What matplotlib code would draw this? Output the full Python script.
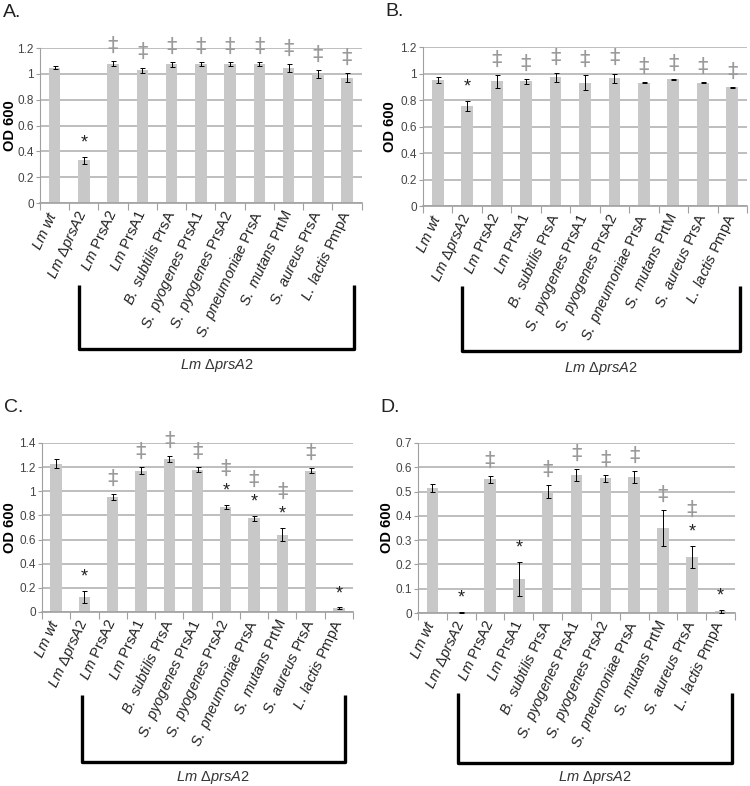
import numpy as np
import matplotlib.pyplot as plt
from matplotlib import transforms

plt.rcParams['font.family'] = ['Liberation Sans', 'DejaVu Sans']
plt.rcParams['mathtext.fontset'] = 'custom'
plt.rcParams['mathtext.rm'] = 'Liberation Sans'
plt.rcParams['mathtext.it'] = 'Liberation Sans:italic'

# strain names: italic part + roman part
name_it = ['Lm wt', 'Lm ΔprsA2', 'Lm', 'Lm', 'B. subtilis', 'S. pyogenes',
           'S. pyogenes', 'S. pneumoniae', 'S. mutans', 'S. aureus', 'L. lactis']
name_rm = ['', '', 'PrsA2', 'PrsA1', 'PrsA', 'PrsA1', 'PrsA2', 'PrsA',
           'PrtM', 'PrsA', 'PmpA']

# panel A
od_A = [1.05, 0.33, 1.08, 1.03, 1.075, 1.08, 1.08, 1.08, 1.045, 1.0, 0.97]
err_A = [0.015, 0.03, 0.02, 0.02, 0.02, 0.015, 0.015, 0.015, 0.03, 0.03, 0.035]
star_A = [0, 1, 0, 0, 0, 0, 0, 0, 0, 0, 0]
dag_A = [0, 0, 1, 1, 1, 1, 1, 1, 1, 1, 1]

# panel B
od_B = [0.95, 0.755, 0.94, 0.94, 0.97, 0.93, 0.965, 0.93, 0.955, 0.93, 0.895]
err_B = [0.025, 0.035, 0.05, 0.02, 0.035, 0.055, 0.035, 0.004, 0.005, 0.005, 0.003]
star_B = [0, 1, 0, 0, 0, 0, 0, 0, 0, 0, 0]
dag_B = [0, 0, 1, 1, 1, 1, 1, 1, 1, 1, 1]

# panel C
od_C = [1.23, 0.125, 0.95, 1.17, 1.27, 1.18, 0.87, 0.775, 0.64, 1.17, 0.03]
err_C = [0.04, 0.05, 0.025, 0.03, 0.025, 0.02, 0.02, 0.02, 0.055, 0.02, 0.008]
star_C = [0, 1, 0, 0, 0, 0, 1, 1, 1, 0, 1]
dag_C = [0, 0, 1, 1, 1, 1, 1, 1, 1, 1, 0]

# panel D
od_D = [0.515, 0.003, 0.55, 0.14, 0.50, 0.567, 0.554, 0.56, 0.35, 0.232, 0.007]
err_D = [0.015, 0.003, 0.015, 0.07, 0.025, 0.025, 0.015, 0.025, 0.075, 0.045, 0.005]
star_D = [0, 1, 0, 1, 0, 0, 0, 0, 0, 1, 1]
dag_D = [0, 0, 1, 0, 1, 1, 1, 1, 1, 1, 0]

ylims = {'A': (1.2, 0.2), 'B': (1.2, 0.2), 'C': (1.4, 0.2), 'D': (0.7, 0.1)}


def label(it, rm):
    s = r'$\mathit{' + it.replace(' ', r'\ ') + '}$'
    if rm:
        s += ' ' + rm
    return s


labels = [label(a, b) for a, b in zip(name_it, name_rm)]

fig = plt.figure(figsize=(7.5, 7.86), dpi=100)

panels = [
    ('A', [0.0533, 0.7417, 0.429, 0.197], od_A, err_A, star_A, dag_A, (0.83, 10.25), (-0.53, -0.94, -1.05), -0.072),
    ('B', [0.564, 0.7379, 0.432, 0.2023], od_B, err_B, star_B, dag_B, (0.82, 10.26), (-0.50, -0.91, -1.02), -0.08),
    ('C', [0.056, 0.2214, 0.4147, 0.215], od_C, err_C, star_C, dag_C, (0.91, 10.2), (-0.49, -0.89, -0.98), -0.08),
    ('D', [0.5573, 0.2201, 0.4227, 0.2163], od_D, err_D, star_D, dag_D, (0.89, 10.4), (-0.47, -0.88, -0.97), -0.075),
]

x = np.arange(len(labels))
for name, pos, od, err, star, dag, bx, by, ylx in panels:
    ax = fig.add_axes(pos)
    top, step = ylims[name]
    ax.set_ylim(0, top)
    ax.set_xlim(-0.5, len(labels) - 0.5)
    yt = np.round(np.arange(0, top + 1e-9, step), 2)
    ax.set_yticks(yt)
    ax.set_yticklabels(['%g' % v for v in yt], fontsize=8.5, color='#444444')
    ax.yaxis.grid(True, color='#b9b9b9', linewidth=1.3)
    ax.set_axisbelow(True)
    ax.bar(x, od, width=0.4, color='#c8c8c8', zorder=2)
    ax.errorbar(x, od, yerr=err, fmt='none', ecolor='black', elinewidth=0.7,
                capsize=1.8, capthick=0.7, zorder=3)
    for i in range(len(od)):
        ytop = od[i] + err[i]
        off = 10
        if star[i]:
            ax.annotate('*', (x[i], ytop), xytext=(0, off), textcoords='offset points',
                        ha='center', va='center', fontsize=13, color='#222222')
            off += 15
        if dag[i]:
            ax.annotate('‡', (x[i], ytop), xytext=(0, off + 1), textcoords='offset points',
                        ha='center', va='center', fontsize=15, color='#9a9a9a',
                        family='DejaVu Sans')
    # x ticks at category borders, labels at centres
    ax.set_xticks(np.arange(-0.5, len(labels), 1.0))
    ax.set_xticklabels([])
    ax.set_xticks(x, minor=True)
    ax.set_xticklabels(labels, minor=True, rotation=65, ha='right', va='center',
                       rotation_mode='anchor', fontsize=10.5, color='#222222')
    ax.tick_params(axis='x', which='major', length=5, color='#a0a0a0', width=0.8)
    ax.tick_params(axis='x', which='minor', length=0, pad=6)
    ax.tick_params(axis='y', length=3, color='#a0a0a0', pad=1.5)
    for s in ['top', 'right']:
        ax.spines[s].set_visible(False)
    ax.spines['left'].set_color('#a0a0a0')
    ax.spines['bottom'].set_color('#a0a0a0')
    ax.spines['bottom'].set_linewidth(1.2)
    ax.set_ylabel('OD 600', fontsize=10.5, fontweight='bold')
    ax.yaxis.set_label_coords(ylx, 0.5)

    # bracket under the complemented strains
    tr = transforms.blended_transform_factory(ax.transData, ax.transAxes)
    ax.plot([bx[0], bx[0], bx[1], bx[1]], [by[0], by[1], by[1], by[0]], color='black',
            linewidth=2.4, transform=tr, clip_on=False, solid_capstyle='butt')
    ax.text((bx[0] + bx[1]) / 2, by[2], r'$\mathit{Lm\ \Delta prsA2}$', transform=tr,
            ha='center', va='center', fontsize=10.5, color='#333333')

    # panel letter
    fig.text(pos[0] - 0.05, pos[1] + pos[3] + 0.045, name + '.', fontsize=14,
             color='#222222', ha='left', va='center')

fig.savefig('out.png', dpi=100)
